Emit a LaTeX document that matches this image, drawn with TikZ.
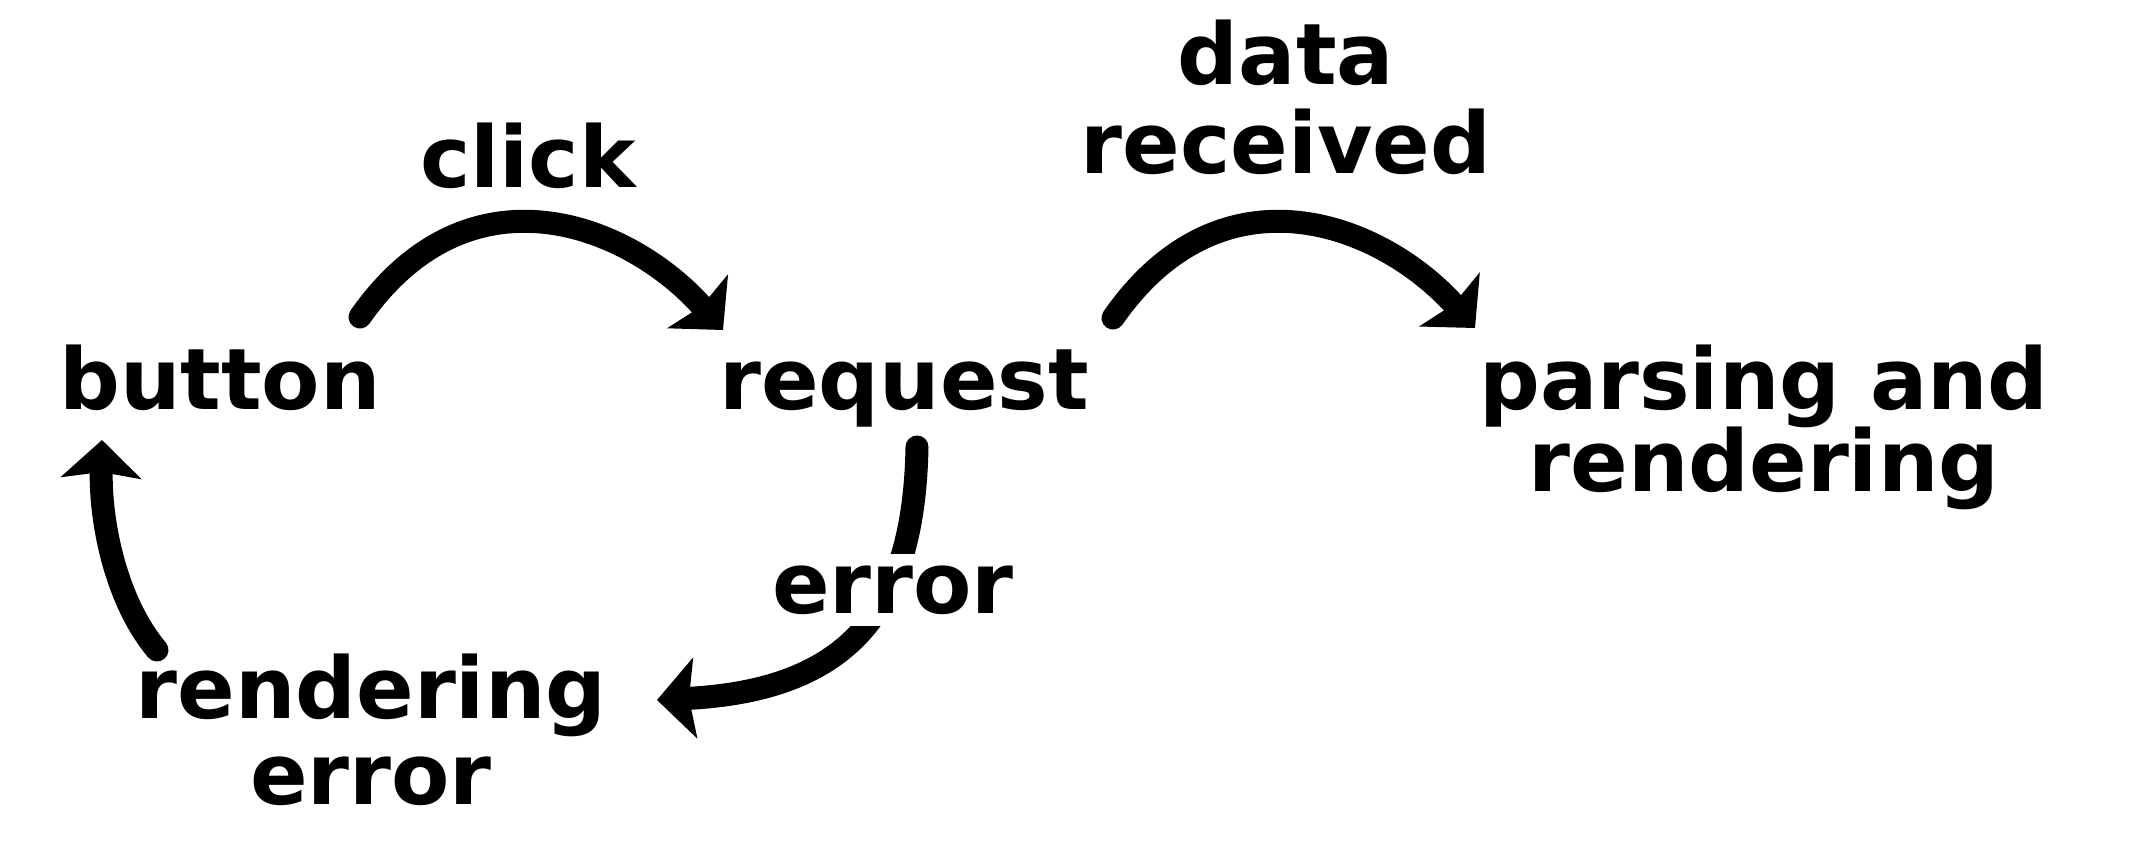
\documentclass[tikz,border=0pt]{standalone}
\usepackage{fontspec}
\setmainfont{DejaVu Sans}
\usetikzlibrary{arrows.meta,calc}
\begin{document}
\begin{tikzpicture}[x=0.5pt,y=-0.5pt,
  lbl/.style={anchor=base,inner sep=0pt,align=center,font=\fontsize{42.5}{43}\selectfont\bfseries},
  conn/.style={line width=11.5pt,line cap=round,-{Stealth[length=19pt,width=40pt,inset=3pt]}}]
\useasboundingbox[fill=white] (0,0) rectangle (2138,862);
\node[lbl] (button) at (220,409) {button};
\node[lbl] (request) at (904,409) {request};
\node[lbl] (parsing) at (1764,491) {parsing and\\[-2pt]rendering};
\node[lbl] (data) at (1286,173) {data\\[1.5pt]received};
\node[lbl] (click) at (528,187) {click};
\node[lbl] (rerr) at (371,804) {rendering\\error};
% connectors
\coordinate (c1s) at ($(button.base)+(140,-92)$);
\coordinate (c1e) at ($(request.base)+(-181,-79)$);
\draw[conn] (c1s) .. controls (470,160) and (630,225) .. (c1e);
\coordinate (c2s) at ($(request.base)+(209,-91)$);
\coordinate (c2e) at ($(parsing.base)+(-289,-163)$);
\draw[conn] (c2s) .. controls (1223,160) and (1383,225) .. (c2e);
\coordinate (c3s) at ($(request.base)+(13,38)$);
\coordinate (c3e) at ($(rerr.base)+(286,-104)$);
\draw[conn] (c3s) .. controls (914,610) and (850,690) .. (c3e);
\node[lbl,fill=white,inner sep=6pt,anchor=center] (err) at (893,590) {error};
\coordinate (c4s) at ($(rerr.base)+(-214,-154)$);
\coordinate (c4e) at ($(button.base)+(-118,31)$);
\draw[conn] (c4s) .. controls (115,600) and (100,520) .. (c4e);
\end{tikzpicture}
\end{document}
